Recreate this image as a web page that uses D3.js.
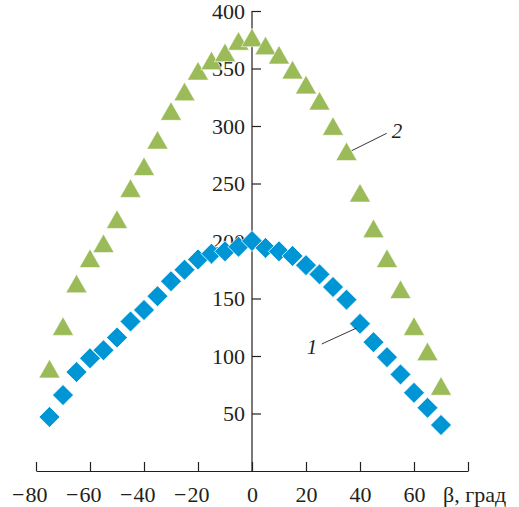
<!DOCTYPE html>
<html>
<head>
<meta charset="utf-8">
<script src="https://cdn.jsdelivr.net/npm/d3@7"></script>
<style>
  html, body { margin: 0; padding: 0; background: #fff; }
  svg { display: block; }
</style>
</head>
<body>
<svg id="chart" width="519" height="507" font-family="Liberation Serif"></svg>
<script>
// Data
const angles = [-75, -70, -65, -60, -55, -50, -45, -40, -35, -30, -25, -20, -15, -10, -5,
                0, 5, 10, 15, 20, 25, 30, 35, 40, 45, 50, 55, 60, 65, 70];
const series1 = [47, 66, 86, 98, 105, 116, 130, 140, 152, 165, 175, 184, 189, 191, 195,
                 200, 194, 191, 187, 179, 171, 160, 149, 128, 112, 99, 84, 68, 55, 40];
const series2 = [89, 126, 163, 185, 198, 219, 246, 265, 288, 313, 330, 348, 357, 364, 374,
                 377, 370, 362, 349, 336, 322, 300, 278, 242, 211, 185, 158, 126, 104, 74];
const xTicks = [-80, -60, -40, -20, 0, 20, 40, 60, 80];
const xTickLabels = ["−80", "−60", "−40", "−20", "0", "20", "40", "60", ""];
const yTicks = [50, 100, 150, 200, 250, 300, 350, 400];
const yTickLabels = ["50", "100", "150", "200", "250", "300", "350", "400"];
const xAxisTitle = "β, град";
const seriesLabels = ["1", "2"];

const FONT = "Liberation Serif";
const svg = d3.select("#chart");
const x = d3.scaleLinear().domain([-80, 80]).range([36, 468]);
const y = d3.scaleLinear().domain([0, 400]).range([471, 11]);
const axisColor = "#231f20";
const labelY = 31;

// X axis
const gx = svg.append("g").attr("transform", `translate(0,${y(0)})`)
  .call(d3.axisBottom(x).tickValues(xTicks).tickSize(-9).tickSizeOuter(0)
        .tickFormat((d, i) => xTickLabels[i]));
gx.attr("font-family", FONT).attr("font-size", 22);
gx.select(".domain").attr("stroke", axisColor).attr("stroke-width", 1.2);
gx.selectAll(".tick line").attr("stroke", axisColor).attr("stroke-width", 1.2);
gx.selectAll(".tick").filter(d => d === 80).select("text").remove();
gx.selectAll(".tick text").each(function() {
  const t = d3.select(this);
  const full = t.text();
  const neg = full.startsWith("−");
  const digits = neg ? full.slice(1) : full;
  t.text(digits).attr("y", labelY).attr("dy", 0)
   .attr("fill", axisColor).attr("text-anchor", "middle");
  if (neg) {
    const w = this.getComputedTextLength();
    d3.select(this.parentNode).append("text")
      .attr("x", -w / 2 - 1).attr("y", labelY).attr("text-anchor", "end")
      .attr("fill", axisColor).text("−");
  }
});

svg.append("text").attr("x", 443).attr("y", y(0) + labelY).attr("font-family", FONT)
  .attr("font-size", 22).attr("fill", axisColor).text(xAxisTitle);

// Y axis
const gy = svg.append("g").attr("transform", `translate(${x(0)},0)`)
  .call(d3.axisLeft(y).tickValues(yTicks).tickSize(-9).tickSizeOuter(0).tickPadding(7)
        .tickFormat((d, i) => yTickLabels[i]));
gy.attr("font-family", FONT).attr("font-size", 22);
gy.select(".domain").attr("stroke", axisColor).attr("stroke-width", 1.2)
  .attr("d", `M0,${y(400)}V${y(0)}`);
gy.selectAll(".tick line").attr("stroke", axisColor).attr("stroke-width", 1.2);
gy.selectAll(".tick text").attr("fill", axisColor).attr("dy", "0.34em");

// Series 1: diamonds
const dHalf = 10.5;
svg.append("g").selectAll("path").data(angles).join("path")
  .attr("d", (a, i) => {
    const cx = x(a), cy = y(series1[i]);
    return `M${cx},${cy - dHalf}L${cx + dHalf},${cy}L${cx},${cy + dHalf}L${cx - dHalf},${cy}Z`;
  })
  .attr("fill", "#0096d6").attr("stroke", "#fff").attr("stroke-width", 0.8);

// Series 2: triangles
const tw = 10.6, th = 9.3;
svg.append("g").selectAll("path").data(angles).join("path")
  .attr("d", (a, i) => {
    const cx = x(a), cy = y(series2[i]);
    return `M${cx},${cy - th}L${cx + tw},${cy + th}L${cx - tw},${cy + th}Z`;
  })
  .attr("fill", "#9bbb59").attr("stroke", "#fff").attr("stroke-width", 0.6);

// Curve labels with leader lines
svg.append("line").attr("x1", 321.7).attr("y1", 344).attr("x2", 356).attr("y2", 328.3)
  .attr("stroke", axisColor).attr("stroke-width", 0.9);
svg.append("text").attr("x", 312).attr("y", 354).attr("text-anchor", "middle").attr("font-family", FONT)
  .attr("font-size", 21).attr("font-style", "italic").attr("fill", axisColor).text(seriesLabels[0]);
svg.append("line").attr("x1", 386.7).attr("y1", 133.3).attr("x2", 351.7).attr("y2", 150.7)
  .attr("stroke", axisColor).attr("stroke-width", 0.9);
svg.append("text").attr("x", 397).attr("y", 138).attr("text-anchor", "middle").attr("font-family", FONT)
  .attr("font-size", 21).attr("font-style", "italic").attr("fill", axisColor).text(seriesLabels[1]);
</script>
</body>
</html>
